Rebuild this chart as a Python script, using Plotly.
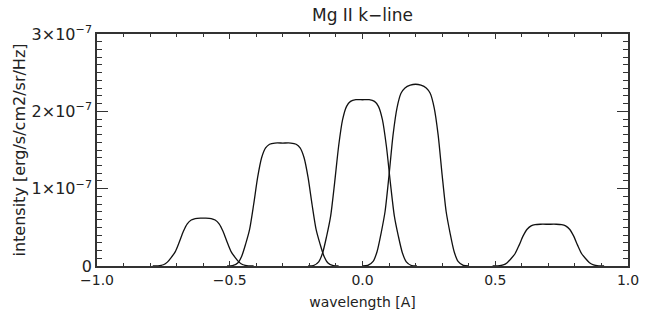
import plotly.graph_objects as go

# wavelength [A] and intensity (in units of 1e-7 erg/s/cm2/sr/Hz)
wl_1 = [-0.79, -0.77, -0.75, -0.735, -0.72, -0.705, -0.69, -0.675, -0.66, -0.645, -0.63, -0.61, -0.60,
        -0.59, -0.57, -0.555, -0.54, -0.525, -0.51, -0.495, -0.48, -0.465, -0.45, -0.43, -0.41]
int_1 = [0.0, 0.002, 0.016, 0.050, 0.112, 0.186, 0.31, 0.446, 0.546, 0.595, 0.614, 0.62, 0.62,
         0.62, 0.614, 0.595, 0.546, 0.446, 0.31, 0.186, 0.112, 0.050, 0.016, 0.002, 0.0]

wl_2 = [-0.51, -0.49, -0.47, -0.455, -0.44, -0.425, -0.41, -0.395, -0.38, -0.365, -0.35, -0.33, -0.30,
        -0.27, -0.25, -0.235, -0.22, -0.205, -0.19, -0.175, -0.16, -0.145, -0.13, -0.11, -0.09]
int_2 = [0.0, 0.005, 0.040, 0.127, 0.286, 0.477, 0.795, 1.145, 1.399, 1.526, 1.574, 1.59, 1.59,
         1.59, 1.574, 1.526, 1.399, 1.145, 0.795, 0.477, 0.286, 0.127, 0.040, 0.005, 0.0]

wl_3 = [-0.205, -0.185, -0.165, -0.15, -0.135, -0.12, -0.105, -0.09, -0.075, -0.06, -0.045, -0.025, 0.0,
        0.025, 0.045, 0.06, 0.075, 0.09, 0.105, 0.12, 0.135, 0.15, 0.165, 0.185, 0.205]
int_3 = [0.0, 0.006, 0.054, 0.172, 0.387, 0.645, 1.075, 1.548, 1.892, 2.064, 2.129, 2.15, 2.15,
         2.15, 2.129, 2.064, 1.892, 1.548, 1.075, 0.645, 0.387, 0.172, 0.054, 0.006, 0.0]

wl_4 = [0.00, 0.02, 0.04, 0.055, 0.07, 0.085, 0.10, 0.115, 0.13, 0.145, 0.16, 0.18, 0.20,
        0.22, 0.24, 0.255, 0.27, 0.285, 0.30, 0.315, 0.33, 0.345, 0.36, 0.38, 0.40]
int_4 = [0.0, 0.007, 0.059, 0.188, 0.423, 0.705, 1.175, 1.692, 2.045, 2.233, 2.303, 2.338, 2.35,
         2.338, 2.303, 2.233, 2.045, 1.692, 1.175, 0.705, 0.423, 0.188, 0.059, 0.007, 0.0]

wl_5 = [0.49, 0.51, 0.53, 0.545, 0.56, 0.575, 0.59, 0.605, 0.62, 0.635, 0.65, 0.67, 0.70,
        0.73, 0.75, 0.765, 0.78, 0.795, 0.81, 0.825, 0.84, 0.855, 0.87, 0.89, 0.91]
int_5 = [0.0, 0.002, 0.014, 0.043, 0.097, 0.162, 0.27, 0.389, 0.475, 0.518, 0.535, 0.54, 0.54,
         0.54, 0.535, 0.518, 0.475, 0.389, 0.27, 0.162, 0.097, 0.043, 0.014, 0.002, 0.0]

UNIT = 1e-7
profiles = [(wl_1, int_1), (wl_2, int_2), (wl_3, int_3), (wl_4, int_4), (wl_5, int_5)]

fig = go.Figure()
for wl, it in profiles:
    fig.add_trace(go.Scatter(
        x=wl, y=[v * UNIT for v in it], mode="lines",
        line=dict(color="#111111", width=1.3, shape="spline", smoothing=0.7),
        showlegend=False, hoverinfo="skip"))

FAM = "DejaVu Sans, sans-serif"
INK = "#222222"

fig.update_layout(
    width=651, height=320,
    margin=dict(l=97, r=13, t=34, b=52),
    paper_bgcolor="white", plot_bgcolor="white",
    font=dict(family=FAM, size=14, color=INK),
    title=dict(text="Mg II k\u2212line", x=0.5, xref="paper", xanchor="center",
               y=1 - 15 / 320, yref="container", yanchor="middle",
               font=dict(family=FAM, size=17, color=INK)),
)

fig.update_xaxes(
    range=[-1.0, 1.0], dtick=0.5, tick0=0, tickformat=".1f",
    tickfont=dict(family=FAM, size=14, color=INK),
    showgrid=False, zeroline=False,
    showline=True, linecolor="#333333", linewidth=1.5, mirror="ticks",
    ticks="inside", ticklen=5, tickcolor="#333333", tickwidth=1,
    minor=dict(dtick=0.1, ticks="inside", ticklen=3, tickcolor="#333333", tickwidth=1),
    title=dict(text="wavelength [A]", standoff=11, font=dict(family=FAM, size=14, color=INK)),
)
fig.update_yaxes(
    range=[0, 3e-7], dtick=1e-7, tick0=0, exponentformat="power",
    tickfont=dict(family=FAM, size=16, color=INK),
    showgrid=False, zeroline=False,
    showline=True, linecolor="#333333", linewidth=1.5, mirror="ticks",
    ticks="inside", ticklen=11, tickcolor="#333333", tickwidth=1,
    minor=dict(dtick=1e-8, ticks="inside", ticklen=5, tickcolor="#333333", tickwidth=1),
    title=dict(text="intensity [erg/s/cm2/sr/Hz]", standoff=2,
               font=dict(family=FAM, size=16, color=INK)),
)

fig.write_html("out.html")
